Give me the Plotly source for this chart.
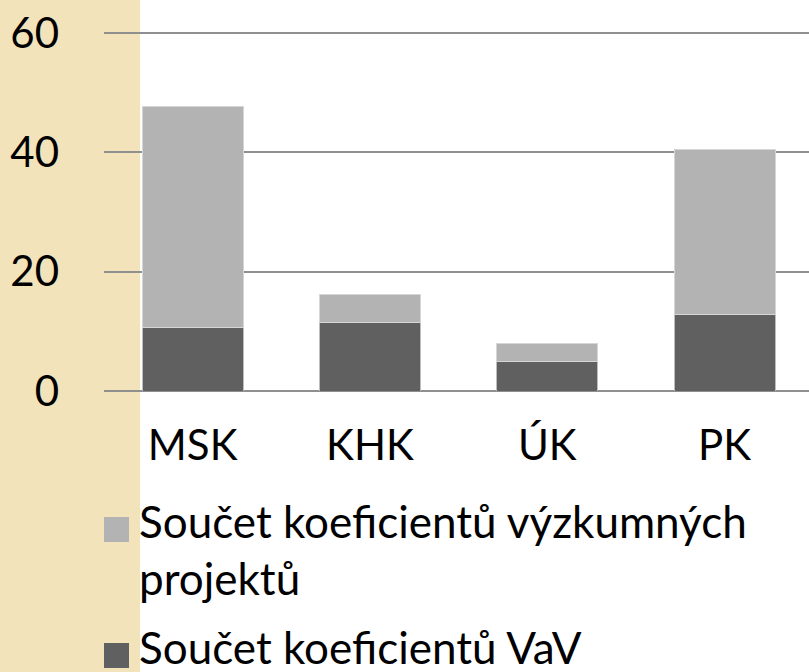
import base64
import textwrap
import plotly.graph_objects as go

# ---- data ----
categories = ["MSK", "KHK", "ÚK", "PK"]
vav_values = [10.6, 11.4, 4.9, 12.9]          # Součet koeficientů VaV (bottom, dark)
projekty_values = [37.1, 4.8, 3.0, 27.5]      # Součet koeficientů výzkumných projektů (top, light)
series_names = ["Součet koeficientů výzkumných projektů", "Součet koeficientů VaV"]
y_ticks = [0, 20, 40, 60]

# ---- layout constants ----
W, H = 809, 672
L, R, T, B = 104, 0, 30, 281
Y_MAX = 60.5
FONT = "Lato"
FS = 42
FS_LEG = 44
LIGHT = "#B3B3B3"
DARK = "#606060"
STRIP_W = 140


def fx(x):
    return (x - L) / (W - L - R)


def fy(y):
    return (H - B - y) / (H - T - B)


fig = go.Figure()
fig.add_trace(go.Bar(x=categories, y=vav_values, name=series_names[1],
                     marker=dict(color=DARK, line=dict(color="#BDBDBD", width=1)),
                     showlegend=False))
fig.add_trace(go.Bar(x=categories, y=projekty_values, name=series_names[0],
                     marker=dict(color=LIGHT, line=dict(color="#D6D6D6", width=1)),
                     showlegend=False))

shapes = []
# beige slide strip on the left (solid base)
shapes.append(dict(type="rect", xref="paper", yref="paper", x0=fx(0), x1=fx(STRIP_W),
                   y0=fy(H), y1=fy(0), fillcolor="#F3E3BA", line=dict(width=0), layer="below"))

# subtle checker texture + right-edge shadow as an SVG decoration
svg = (
    f'<svg xmlns="http://www.w3.org/2000/svg" width="{STRIP_W}" height="{H}">'
    '<defs><pattern id="p" width="10" height="10" patternUnits="userSpaceOnUse">'
    '<rect width="10" height="10" fill="#F6E6BF"/>'
    '<rect x="0" y="0" width="5" height="5" fill="#EEDBAD"/>'
    '<rect x="5" y="5" width="5" height="5" fill="#EEDBAD"/>'
    '<rect x="6.5" y="1.5" width="2" height="2" fill="none" stroke="#EBD6A6" stroke-width="0.8"/>'
    '</pattern>'
    '<linearGradient id="g" x1="0" x2="1" y1="0" y2="0">'
    '<stop offset="0" stop-color="#D8C08A" stop-opacity="0"/>'
    '<stop offset="1" stop-color="#D8C08A" stop-opacity="0.7"/>'
    '</linearGradient></defs>'
    f'<rect width="{STRIP_W}" height="{H}" fill="url(#p)"/>'
    f'<rect x="{STRIP_W - 8}" width="8" height="{H}" fill="url(#g)"/>'
    '</svg>'
)
src = "data:image/svg+xml;base64," + base64.b64encode(svg.encode()).decode()
images = [dict(source=src, xref="paper", yref="paper", x=fx(0), y=fy(0),
               sizex=fx(STRIP_W) - fx(0), sizey=fy(0) - fy(H), xanchor="left", yanchor="top",
               sizing="stretch", layer="below")]

# manual legend
legend_colors = [LIGHT, DARK]
legend_tops = [517, 643]
text_tops = [493, 619]
annotations = []
for name, col, st, tt in zip(series_names, legend_colors, legend_tops, text_tops):
    shapes.append(dict(type="rect", xref="paper", yref="paper", x0=fx(104), x1=fx(129),
                       y0=fy(st + 25), y1=fy(st), fillcolor=col, line=dict(width=0)))
    annotations.append(dict(xref="paper", yref="paper", x=fx(137), y=fy(tt),
                            xanchor="left", yanchor="top", align="left", showarrow=False,
                            text="<br>".join(textwrap.wrap(name, 29)),
                            font=dict(family=FONT, size=FS_LEG, color="black")))

fig.update_layout(
    width=W, height=H,
    margin=dict(l=L, r=R, t=T, b=B),
    paper_bgcolor="white",
    plot_bgcolor="rgba(0,0,0,0)",
    barmode="stack",
    bargap=0.43,
    font=dict(family=FONT, size=FS, color="black"),
    shapes=shapes,
    images=images,
    annotations=annotations,
    showlegend=False,
    xaxis=dict(range=[-0.5, 3.476], showgrid=False, showline=False, zeroline=False,
               ticks="", tickfont=dict(family=FONT, size=FS, color="black"),
               ticklabelstandoff=26, fixedrange=True),
    yaxis=dict(range=[0, Y_MAX], tickvals=y_ticks, showgrid=True, gridcolor="#8F8F8F",
               gridwidth=1.5, zeroline=True, zerolinecolor="#8F8F8F", zerolinewidth=1.5,
               showline=False, ticks="", tickfont=dict(family=FONT, size=FS, color="black"),
               ticklabelstandoff=44, fixedrange=True),
)

fig.write_html("out.html", config={"displayModeBar": False},
               post_script="document.body.style.margin='0';document.body.style.overflow='hidden';")
